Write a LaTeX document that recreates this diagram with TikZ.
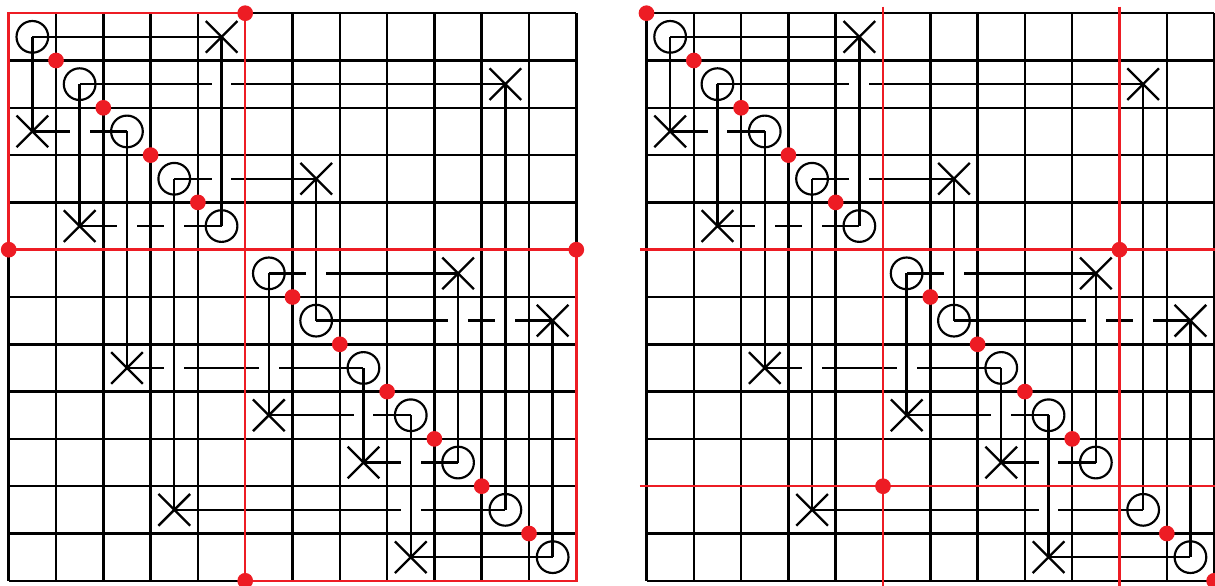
\documentclass[tikz,border=0pt]{standalone}
\usepackage{tikz}
\usetikzlibrary{shapes.misc}
\usepackage{xcolor}
\definecolor{paintred}{RGB}{237,28,36}

\begin{document}
\begin{tikzpicture}[x=1cm, y=1cm,
    gridline/.style={line width=1.5pt},
    link/.style={line width=1.4pt},
    pivot/.style={circle,draw,line width=1.3pt,minimum size=0.67cm,inner sep=0pt},
    entry/.style={cross out,draw,line width=1.4pt,minimum size=0.62cm,inner sep=0pt},
    blockline/.style={paintred,line width=1.5pt}]
    \useasboundingbox (-0.184,0.279) rectangle (25.503,-12.089);
    % Both matrices share grid, pivots, entries and links
    \foreach \g/\dx in {L/0,R/13.484}{
      \begin{scope}[xshift=\dx cm]
        % Grid
        \draw[gridline] (0,0) grid (12,-12);
        % Pivots on the diagonal, one entry per row
        \foreach \i/\j in {0/4,1/10,2/0,3/6,4/1,5/9,6/11,7/2,8/5,9/7,10/3,11/8}{
          \node[pivot] (\g c\i) at (\i+0.5,-\i-0.5) {};
          \node[entry] (\g x\i) at (\j+0.5,-\i-0.5) {};
        }
        % Row links
        \foreach \i in {0,...,11}{
          \draw[link] (\g x\i.center) -- (\g c\i.center);
        }
        % Gaps where column links pass
        \foreach \r/\c in {1/4,2/1,3/4,4/2,4/3,5/6,6/9,6/10,7/3,7/5,8/7,9/8,10/8}{
          \fill[white] (\c+0.29,-\r-0.56) rectangle (\c+0.71,-\r-0.44);
        }
        % Column links
        \foreach \i/\j in {0/4,1/10,2/0,3/6,4/1,5/9,6/11,7/2,8/5,9/7,10/3,11/8}{
          \draw[link] (\g x\i.center) -- (\g c\j.center);
        }
      \end{scope}
    }
    % Left: two diagonal blocks
    \draw[blockline] (0,0) rectangle (5,-5);
    \draw[blockline] (5,-5) rectangle (12,-12);
    \foreach \p in {(5,0),(0,-5),(12,-5),(5,-12)}{
      \fill[paintred] \p circle (0.166);
    }
    \foreach \k in {1,...,4,6,7,...,11}{
      \fill[paintred] (\k,-\k) circle (0.166);
    }
    % Right: three by three blocks
    \begin{scope}[xshift=13.484cm]
      \draw[blockline] (5,0.14) -- (5,-12.14);
      \draw[blockline] (10,0.14) -- (10,-12.14);
      \draw[blockline] (-0.14,-5) -- (12.14,-5);
      \draw[blockline] (-0.14,-10) -- (12.14,-10);
      \foreach \p in {(0,0),(10,-5),(5,-10),(12,-12)}{
        \fill[paintred] \p circle (0.166);
      }
      \foreach \k in {1,...,4,6,7,8,9,11}{
        \fill[paintred] (\k,-\k) circle (0.166);
      }
    \end{scope}
\end{tikzpicture}
\end{document}
